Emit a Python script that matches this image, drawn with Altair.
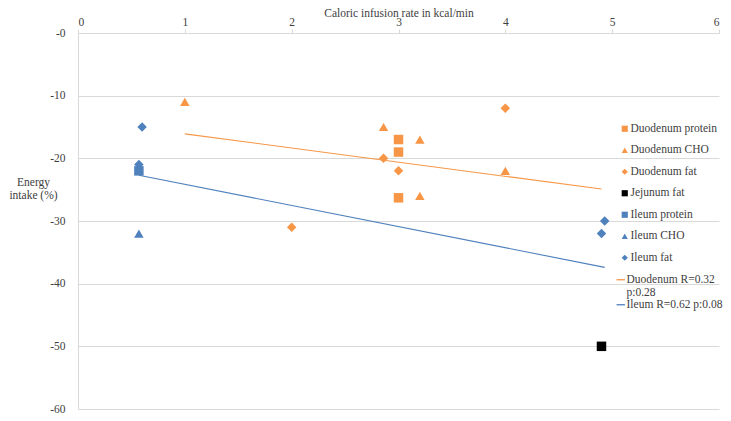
import altair as alt
import pandas as pd

# ---- data ----
point_names = [
    "Duodenum protein", "Duodenum CHO", "Duodenum fat", "Jejunum fat",
    "Ileum protein", "Ileum CHO", "Ileum fat",
]
point_colors = ["#F79646", "#F79646", "#F79646", "#000000",
                "#4F81BD", "#4F81BD", "#4F81BD"]
point_shapes = ["square", "triangle-up", "diamond", "square",
                "square", "triangle-up", "diamond"]

line_names = ["Duodenum R=0.32 p:0.28", "Ileum R=0.62 p:0.08"]
line_colors = ["#F79646", "#4F81BD"]

duo_protein_x = [3.0, 3.0, 3.0]
duo_protein_y = [-17.0, -19.0, -26.3]
duo_cho_x = [1.0, 2.86, 3.2, 3.2, 4.0]
duo_cho_y = [-11.0, -15.0, -17.0, -26.0, -22.0]
duo_fat_x = [2.0, 2.86, 3.0, 4.0]
duo_fat_y = [-31.0, -20.0, -22.0, -12.0]
jej_fat_x = [4.9]
jej_fat_y = [-50.0]
ile_protein_x = [0.57]
ile_protein_y = [-22.0]
ile_cho_x = [0.57]
ile_cho_y = [-32.0]
ile_fat_x = [0.6, 0.57, 4.93, 4.9]
ile_fat_y = [-15.0, -21.0, -30.0, -32.0]

duo_trend_x = [1.0, 4.9]
duo_trend_y = [-16.1, -24.9]
ile_trend_x = [0.57, 4.93]
ile_trend_y = [-22.7, -37.4]

x_ticks = [0, 1, 2, 3, 4, 5, 6]
y_ticks = [0, -10, -20, -30, -40, -50, -60]

# ---- tables ----
point_sets = [
    (point_names[0], duo_protein_x, duo_protein_y),
    (point_names[1], duo_cho_x, duo_cho_y),
    (point_names[2], duo_fat_x, duo_fat_y),
    (point_names[3], jej_fat_x, jej_fat_y),
    (point_names[4], ile_protein_x, ile_protein_y),
    (point_names[5], ile_cho_x, ile_cho_y),
    (point_names[6], ile_fat_x, ile_fat_y),
]
rows = []
for i, (name, xs, ys) in enumerate(point_sets):
    for x, y in zip(xs, ys):
        rows.append({"series": name, "x": x, "y": y, "order": i})
points = pd.DataFrame(rows)

line_sets = [
    (line_names[0], duo_trend_x, duo_trend_y),
    (line_names[1], ile_trend_x, ile_trend_y),
]
lrows = []
for name, xs, ys in line_sets:
    for x, y in zip(xs, ys):
        lrows.append({"trend": name, "x": x, "y": y})
lines = pd.DataFrame(lrows)

FONT = "Liberation Serif"
TXT = "#404040"
GRID = "#D9D9D9"

x_enc = alt.X(
    "x:Q",
    scale=alt.Scale(domain=[0, 6], nice=False, zero=False),
    axis=alt.Axis(
        orient="top", values=x_ticks, format="d", grid=False,
        title="Caloric infusion rate in kcal/min",
        titleY=-20, titleBaseline="middle", titleFontWeight="normal",
        titleFont=FONT, titleFontSize=11.5, titleColor=TXT,
        labelFont=FONT, labelFontSize=11.5, labelColor=TXT,
        domainColor=GRID, tickColor=GRID, tickSize=4, labelPadding=2,
    ),
)
y_enc = alt.Y(
    "y:Q",
    scale=alt.Scale(domain=[-60, 0], nice=False, zero=False),
    axis=alt.Axis(
        values=y_ticks, grid=True, gridColor=GRID, ticks=False, tickSize=0,
        labelExpr="'-' + format(abs(datum.value), 'd')",
        labelFont=FONT, labelFontSize=11.5, labelColor=TXT, labelPadding=13,
        domainColor=GRID,
        title=["Energy", "intake (%)"], titleAngle=0, titleX=-45, titleY=143,
        titleAlign="center", titleBaseline="top", titleLineHeight=13,
        titleFont=FONT, titleFontSize=11.5, titleFontWeight="normal",
        titleColor=TXT,
    ),
)

point_legend = alt.Legend(
    title=None, orient="none", legendX=541, legendY=90,
    symbolSize=38, symbolStrokeWidth=0, labelFont=FONT, labelFontSize=11.5,
    labelColor=TXT, rowPadding=8.5, labelOffset=0,
)
line_legend = alt.Legend(
    title=None, orient="none", legendX=537, legendY=241,
    symbolSize=70, symbolStrokeWidth=1.3, labelFont=FONT, labelFontSize=11.5,
    labelColor=TXT, rowPadding=-4, labelOffset=0,
    labelExpr="datum.label == 'Duodenum R=0.32 p:0.28' ? ['Duodenum R=0.32', 'p:0.28'] : datum.label",
)

pts = alt.Chart(points).mark_point(filled=True, size=90, opacity=1).encode(
    x=x_enc, y=y_enc,
    color=alt.Color("series:N",
                    scale=alt.Scale(domain=point_names, range=point_colors),
                    legend=point_legend),
    shape=alt.Shape("series:N",
                    scale=alt.Scale(domain=point_names, range=point_shapes),
                    legend=point_legend),
    order=alt.Order("order:Q"),
)

trend = alt.Chart(lines).mark_line(strokeWidth=1.1).encode(
    x=x_enc, y=y_enc,
    stroke=alt.Stroke("trend:N",
                      scale=alt.Scale(domain=line_names, range=line_colors),
                      legend=line_legend),
)

chart = alt.layer(trend, pts).properties(
    width=641, height=376,
    autosize=alt.AutoSizeParams(type="none"),
    padding={"left": 70, "top": 25, "right": 4, "bottom": 4},
).configure_view(stroke=None)

chart.save("out.html", embed_options={"renderer": "svg", "actions": False})
